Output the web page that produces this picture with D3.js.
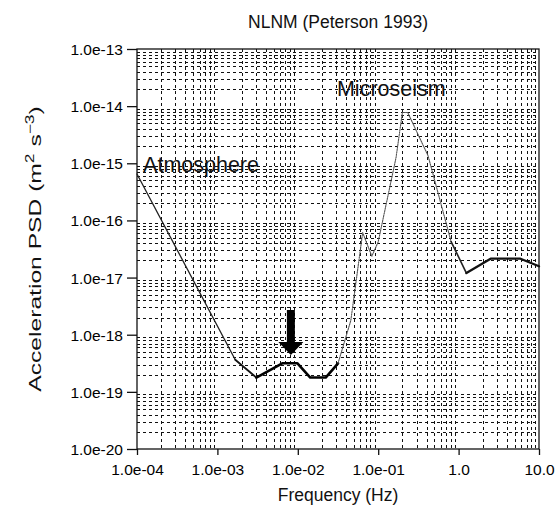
<!DOCTYPE html>
<html>
<head>
<meta charset="utf-8">
<script src="https://cdn.jsdelivr.net/npm/d3@7"></script>
<style>
  html, body { margin: 0; padding: 0; background: #fff; }
  svg { display: block; font-family: "Liberation Sans", Arial, Helvetica, sans-serif; }
</style>
</head>
<body>
<svg id="chart" width="559" height="516"></svg>
<script>
// New Low Noise Model breakpoints (frequency in Hz, acceleration PSD in m^2 s^-3)
const nlnmFreq = [1.0e-4, 1.667e-3, 3.049e-3, 6.494e-3, 9.901e-3, 1.429e-2, 2.222e-2,
                  3.165e-2, 4.566e-2, 6.410e-2, 8.333e-2, 0.1, 0.1667, 0.2, 0.2326,
                  0.4167, 0.8065, 1.25, 2.5, 5.882, 10.0];
const nlnmPsd  = [6.49e-16, 3.65e-19, 1.78e-19, 3.17e-19, 3.16e-19, 1.78e-19, 1.78e-19,
                  3.16e-19, 1.78e-18, 6.12e-17, 2.37e-17, 4.22e-17, 1.26e-15, 7.76e-15, 7.76e-15,
                  1.36e-15, 4.27e-17, 1.20e-17, 2.14e-17, 2.14e-17, 1.58e-17];

// Axis ticks
const xTickValues = [1e-4, 1e-3, 1e-2, 1e-1, 1, 10];
const xTickLabels = ["1.0e-04", "1.0e-03", "1.0e-02", "1.0e-01", "1.0", "10.0"];
const yTickValues = [1e-13, 1e-14, 1e-15, 1e-16, 1e-17, 1e-18, 1e-19, 1e-20];
const yTickLabels = ["1.0e-13", "1.0e-14", "1.0e-15", "1.0e-16", "1.0e-17", "1.0e-18", "1.0e-19", "1.0e-20"];

// Annotations
const noteLabels = [
  { text: "Atmosphere", freq: 1.19e-4, psd: 7.0e-16 },
  { text: "Microseism", freq: 3.07e-2, psd: 1.5e-14 }
];
const arrowFreq = 8.2e-3, arrowFrom = 2.7e-18, arrowTo = 4.4e-19;

const svg = d3.select("#chart");
const margin = { left: 137, top: 49, right: 20, bottom: 67 };
const W = 559 - margin.left - margin.right;
const H = 516 - margin.top - margin.bottom;

const x = d3.scaleLog().domain([1e-4, 10]).range([0, W]);
const y = d3.scaleLog().domain([1e-20, 1e-13]).range([H, 0]);

const g = svg.append("g").attr("transform", `translate(${margin.left},${margin.top})`);

// minor grid values (2..9 within each decade)
const minorX = [], minorY = [];
for (let e = -4; e < 1; e++) for (let m = 2; m <= 9; m++) minorX.push(m * Math.pow(10, e));
for (let e = -20; e < -13; e++) for (let m = 2; m <= 9; m++) minorY.push(m * Math.pow(10, e));

const grid = g.append("g").attr("stroke", "#111").attr("stroke-width", 1).attr("shape-rendering", "crispEdges");
grid.selectAll("line.gx").data(minorX).join("line")
  .attr("x1", d => Math.round(x(d)) + 0.5).attr("x2", d => Math.round(x(d)) + 0.5)
  .attr("y1", 0).attr("y2", H)
  .attr("stroke-dasharray", "3,3");
grid.selectAll("line.gy").data(minorY).join("line")
  .attr("y1", d => Math.round(y(d)) + 0.5).attr("y2", d => Math.round(y(d)) + 0.5)
  .attr("x1", 0).attr("x2", W)
  .attr("stroke-dasharray", "3,3");

// frame
g.append("rect").attr("x", 0).attr("y", 0).attr("width", W).attr("height", H)
  .attr("fill", "none").attr("stroke", "#111").attr("stroke-width", 1.3);

// axes
const xAxis = d3.axisBottom(x).tickValues(xTickValues)
  .tickFormat((d, i) => xTickLabels[i]).tickSize(6).tickPadding(4);
const yAxis = d3.axisLeft(y).tickValues(yTickValues)
  .tickFormat((d, i) => yTickLabels[i]).tickSize(10).tickPadding(4);

const gx = g.append("g").attr("transform", `translate(0,${H})`).call(xAxis);
const gy = g.append("g").call(yAxis);
[gx, gy].forEach(a => {
  a.select(".domain").remove();
  a.selectAll("line").attr("stroke", "#111").attr("stroke-width", 1.3);
  a.selectAll("text").attr("font-size", 15.5).attr("fill", "#000")
    .attr("font-family", "Liberation Sans, Arial, sans-serif");
});
gx.selectAll("text").attr("dy", "1.0em");
gy.selectAll("text").attr("dy", "0.35em");

// NLNM curve, drawn band by band with different pen weights
const pts = nlnmFreq.map((f, i) => [f, nlnmPsd[i]]);
const line = d3.line().x(d => x(d[0])).y(d => y(d[1]));
const bands = [
  { f0: 1e-4,     f1: 1.667e-3, w: 1.3, c: "#222", dash: null },
  { f0: 1.667e-3, f1: 3.049e-3, w: 1.8, c: "#111", dash: null },
  { f0: 3.049e-3, f1: 3.165e-2, w: 2.6, c: "#000", dash: null },
  { f0: 3.165e-2, f1: 0.8065,   w: 1.1, c: "#555", dash: "1.5,1" },
  { f0: 0.8065,   f1: 1.25,     w: 1.6, c: "#222", dash: null },
  { f0: 1.25,     f1: 10,       w: 2.3, c: "#111", dash: null }
];
bands.forEach(b => {
  const seg = pts.filter(p => p[0] >= b.f0 * 0.999 && p[0] <= b.f1 * 1.001);
  g.append("path").datum(seg).attr("d", line)
    .attr("fill", "none").attr("stroke", b.c).attr("stroke-width", b.w)
    .attr("stroke-linejoin", "round").attr("stroke-linecap", "round")
    .attr("stroke-dasharray", b.dash);
});

// annotation labels
g.selectAll("text.note").data(noteLabels).join("text")
  .attr("class", "note")
  .attr("x", d => x(d.freq)).attr("y", d => y(d.psd))
  .attr("font-size", 21.5).attr("fill", "#111")
  .text(d => d.text);

// arrow pointing at the low-frequency hump
const ax = x(arrowFreq), ay0 = y(arrowFrom), ay1 = y(arrowTo);
const headH = 13, headW = 12.5, shaftW = 4;
g.append("path")
  .attr("d", `M${ax - shaftW},${ay0} L${ax + shaftW},${ay0} L${ax + shaftW},${ay1 - headH}
              L${ax + headW},${ay1 - headH} L${ax},${ay1} L${ax - headW},${ay1 - headH}
              L${ax - shaftW},${ay1 - headH} Z`)
  .attr("fill", "#000");

// titles
svg.append("text").attr("x", margin.left + W / 2).attr("y", 28)
  .attr("text-anchor", "middle").attr("font-size", 17.5).attr("fill", "#111")
  .text("NLNM (Peterson 1993)");
svg.append("text").attr("x", margin.left + W / 2).attr("y", 501)
  .attr("text-anchor", "middle").attr("font-size", 17.5).attr("fill", "#111")
  .text("Frequency (Hz)");
const yt = svg.append("text")
  .attr("transform", `translate(41,${margin.top + H / 2}) rotate(-90) scale(1.45,1)`)
  .attr("text-anchor", "middle").attr("font-size", 17).attr("fill", "#111");
yt.append("tspan").text("Acceleration PSD (m");
yt.append("tspan").attr("dy", -7).attr("font-size", 12).text("2");
yt.append("tspan").attr("dy", 7).text(" s");
yt.append("tspan").attr("dy", -7).attr("font-size", 12).text("\u22123");
yt.append("tspan").attr("dy", 7).text(")");
</script>
</body>
</html>
